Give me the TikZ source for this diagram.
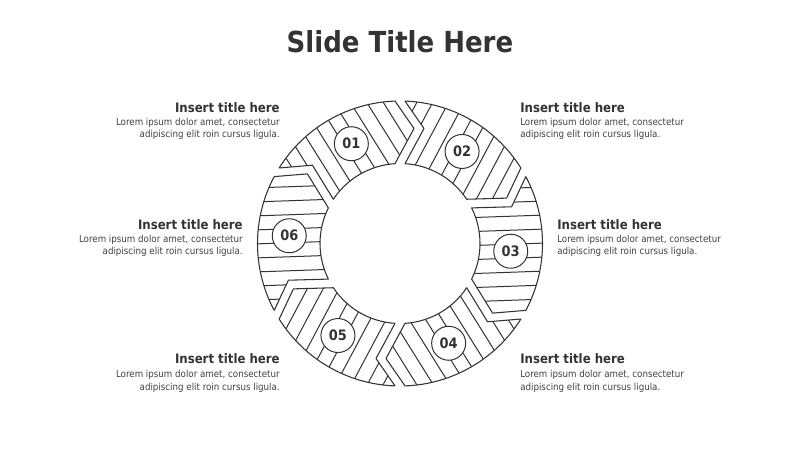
\documentclass[tikz,border=0pt]{standalone}
\usepackage{fontspec}
\setmainfont{DejaVu Sans Condensed}
\usetikzlibrary{calc}
\definecolor{ink}{HTML}{333333}
\definecolor{bodytxt}{HTML}{404040}
\def\rOut{142.5}
\def\rIn{80}
\def\dOut{2.01}
\def\dIn{3.58}
\def\uTip{115}
\def\vTip{14}
\def\vNotch{24}
\newcommand\mysegpath[1]{($(C)+(#1+60-\dOut:\rOut)$) arc[start angle=#1+60-\dOut, end angle=#1+\dOut, radius=\rOut] -- ($(C)+(#1:\uTip)+(#1-90:\vTip)$) -- ($(C)+(#1+\dIn:\rIn)$) arc[start angle=#1+\dIn, end angle=#1+60-\dIn, radius=\rIn] -- ($(C)+(#1+60:\uTip)+(#1-30:\vNotch)$) -- cycle}
\tikzset{
  hatch/.style={draw=ink, line width=0.75pt},
  seg/.style={draw=ink, line width=0.8pt, line join=round},
  badge/.style={circle, draw=ink, fill=white, line width=0.75pt, minimum size=25.5pt, inner sep=0pt, text=ink, font=\bfseries\fontsize{10.8}{12}\selectfont},
  stitle/.style={font=\bfseries\fontsize{9.8}{11}\selectfont, text=ink, inner sep=0pt},
  sbody/.style={font=\fontsize{7.25}{9}\selectfont, text=bodytxt, inner sep=0pt},
}
\begin{document}
\begin{tikzpicture}[x=0.75pt,y=0.75pt]
\useasboundingbox (0,0) rectangle (800,450);
\coordinate (C) at (400,206.5);
\node[font=\bfseries\fontsize{21.7}{26}\selectfont, text=ink, inner sep=0pt, anchor=base] (title) at (400,397.7) {Slide Title Here};
\foreach \p [count=\i] in {90,30,-30,-90,-150,-210} {
  \pgfmathsetmacro\ha{\p+32}
  \pgfmathsetmacro\hp{\p+32-90}
  \pgfmathsetmacro\ba{\p+26}
  \coordinate (B\i) at ($(C)+(\ba:111)$);
  \begin{scope}
    \clip \mysegpath{\p};
    \foreach \k in {-7,...,6} {
      \pgfmathsetmacro\off{(\k+0.5)*14}
      \draw[hatch] ($(B\i)+(\hp:\off)+(\ha:-120)$) -- ++(\ha:240);
    }
  \end{scope}
  \draw[seg] \mysegpath{\p};
  \node[badge] (b\i) at (B\i) {0\i};
}
% 01 top-left
\node[stitle, anchor=base east] (t1) at (280,337.3) {Insert title here};
\node[sbody, anchor=base east] (t1a) at (280,324.7) {Lorem ipsum dolor amet, consectetur};
\node[sbody, anchor=base east] (t1b) at (280,312) {adipiscing elit roin cursus ligula.};
% 02 top-right
\node[stitle, anchor=base west] (t2) at (520,337.3) {Insert title here};
\node[sbody, anchor=base west] (t2a) at (520,324.7) {Lorem ipsum dolor amet, consectetur};
\node[sbody, anchor=base west] (t2b) at (520,312) {adipiscing elit roin cursus ligula.};
% 06 mid-left
\node[stitle, anchor=base east] (t6) at (243,220.7) {Insert title here};
\node[sbody, anchor=base east] (t6a) at (243,207.4) {Lorem ipsum dolor amet, consectetur};
\node[sbody, anchor=base east] (t6b) at (243,195.2) {adipiscing elit roin cursus ligula.};
% 03 mid-right
\node[stitle, anchor=base west] (t3) at (557,220.7) {Insert title here};
\node[sbody, anchor=base west] (t3a) at (557,207.4) {Lorem ipsum dolor amet, consectetur};
\node[sbody, anchor=base west] (t3b) at (557,195.2) {adipiscing elit roin cursus ligula.};
% 05 bottom-left
\node[stitle, anchor=base east] (t5) at (280,86) {Insert title here};
\node[sbody, anchor=base east] (t5a) at (280,72.4) {Lorem ipsum dolor amet, consectetur};
\node[sbody, anchor=base east] (t5b) at (280,60) {adipiscing elit roin cursus ligula.};
% 04 bottom-right
\node[stitle, anchor=base west] (t4) at (520,86) {Insert title here};
\node[sbody, anchor=base west] (t4a) at (520,72.4) {Lorem ipsum dolor amet, consectetur};
\node[sbody, anchor=base west] (t4b) at (520,60) {adipiscing elit roin cursus ligula.};
\end{tikzpicture}
\end{document}
